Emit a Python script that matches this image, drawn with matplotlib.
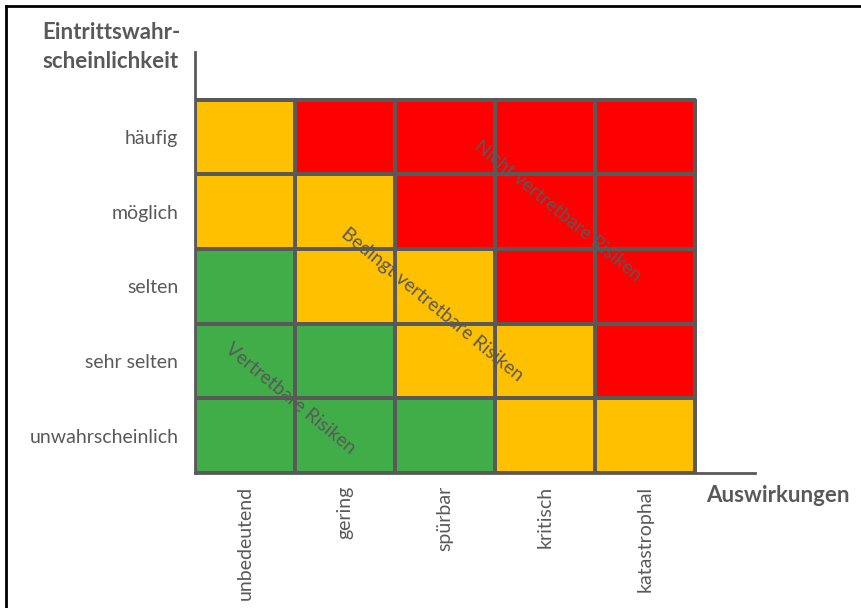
import matplotlib
matplotlib.use("Agg")
import matplotlib.pyplot as plt
from matplotlib.colors import ListedColormap
from matplotlib.lines import Line2D
import numpy as np

plt.rcParams['font.family'] = ['Lato', 'DejaVu Sans']

impacts = ["unbedeutend", "gering", "spürbar", "kritisch", "katastrophal"]
likelihoods = ["unwahrscheinlich", "sehr selten", "selten", "möglich", "häufig"]  # bottom -> top
# risk class per cell: 0 = vertretbar (green), 1 = bedingt (orange), 2 = nicht vertretbar (red)
risk = [
    [0, 0, 0, 1, 1],  # unwahrscheinlich
    [0, 0, 1, 1, 2],  # sehr selten
    [0, 1, 1, 2, 2],  # selten
    [1, 1, 2, 2, 2],  # möglich
    [1, 2, 2, 2, 2],  # häufig
]
zone_labels = ["Vertretbare Risiken", "Bedingt vertretbare Risiken", "Nicht vertretbare Risiken"]
zone_pos = [(0.95, 1.0), (2.37, 2.25), (3.63, 3.52)]
colors = ["#41AD49", "#FFC000", "#FF0000"]

W, H, DPI = 861, 608, 100
fig = plt.figure(figsize=(W / DPI, H / DPI), dpi=DPI)
gray = "#595959"

ax = fig.add_axes([195 / W, (H - 473) / H, 560 / W, 421 / H])
ax.pcolormesh(np.arange(6), np.arange(6), np.array(risk), cmap=ListedColormap(colors),
              vmin=-0.5, vmax=2.5, edgecolors=gray, linewidth=1.5)
ax.set_xlim(0, 5.6)
ax.set_ylim(0, 5.64)
for s in ["top", "right"]:
    ax.spines[s].set_visible(False)
for s in ["left", "bottom"]:
    ax.spines[s].set_color(gray)
    ax.spines[s].set_linewidth(2)
ax.set_xticks(np.arange(5) + 0.5)
ax.set_xticklabels(impacts, rotation=90, va="top", fontsize=14)
ax.set_yticks(np.arange(5) + 0.5)
ax.set_yticklabels(likelihoods, fontsize=14)
ax.tick_params(length=0, labelcolor=gray)
ax.tick_params(axis="x", pad=9)
ax.tick_params(axis="y", pad=12)

for lab, (x, y) in zip(zone_labels, zone_pos):
    ax.text(x, y, lab, rotation=-39.5, rotation_mode="anchor", ha="center", va="center",
            fontsize=13.8, color=gray)

fig.text(42 / W, 1 - 47 / H, "Eintrittswahr-\nscheinlichkeit", fontsize=16, fontweight="bold",
         color=gray, ha="left", va="center", linespacing=1.5)
fig.text(706 / W, 1 - 495 / H, "Auswirkungen", fontsize=16, fontweight="bold",
         color=gray, ha="left", va="center")

fig.add_artist(Line2D([6 / W, 1], [1 - 6 / H, 1 - 6 / H], color="black", linewidth=2, transform=fig.transFigure))
fig.add_artist(Line2D([6 / W, 6 / W], [0, 1 - 6 / H], color="black", linewidth=2, transform=fig.transFigure))

fig.savefig("out.png", dpi=DPI)
